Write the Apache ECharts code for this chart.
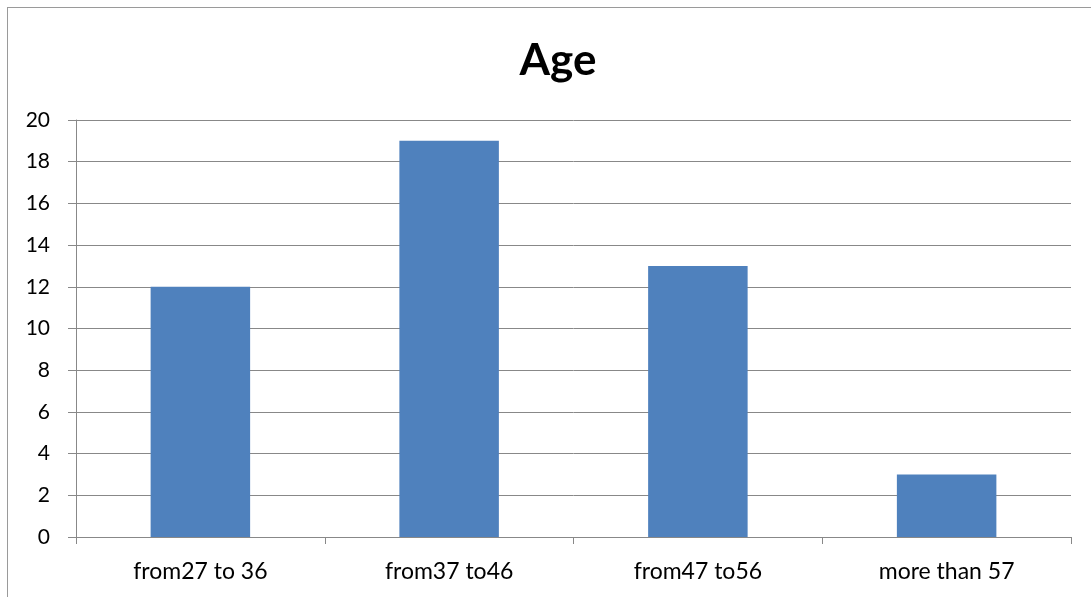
<!DOCTYPE html>
<html>
<head>
<meta charset="utf-8">
<script src="https://cdn.jsdelivr.net/npm/echarts@6/dist/echarts.min.js"></script>
<style>
  html, body { margin: 0; padding: 0; background: #fff; }
  #frame { position: absolute; left: 7px; top: 7px; width: 1100px; height: 600px; border: 1px solid #9a9a9a; box-sizing: border-box; }
  #chart { position: absolute; left: 0; top: 0; width: 1091px; height: 597px; }
</style>
</head>
<body>
<div id="frame"></div>
<div id="chart"></div>
<script>
const titleText = 'Age';
const categories = ['from27 to 36', 'from37 to46', 'from47 to56', 'more than 57'];
const counts = [12, 19, 13, 3];
const yTicks = { min: 0, max: 20, interval: 2 };

const chart = echarts.init(document.getElementById('chart'), null, { renderer: 'canvas' });
const font = 'Lato, "Open Sans", "Liberation Sans", sans-serif';
chart.setOption({
  animation: false,
  backgroundColor: 'transparent',
  title: {
    text: titleText,
    left: 553,
    textAlign: 'center',
    top: 34,
    textStyle: { fontFamily: font, fontSize: 44, fontWeight: 'bold', color: '#000' }
  },
  grid: { left: 76, right: 20, top: 120, bottom: 60, containLabel: false },
  xAxis: {
    type: 'category',
    data: categories,
    axisLine: { lineStyle: { color: '#888', width: 1 } },
    axisTick: { show: true, alignWithLabel: false, length: 7, lineStyle: { color: '#888' } },
    axisLabel: { fontFamily: font, fontSize: 23, color: '#000', margin: 23 }
  },
  yAxis: {
    type: 'value',
    min: yTicks.min,
    max: yTicks.max,
    interval: yTicks.interval,
    axisLine: { show: true, lineStyle: { color: '#888', width: 1 } },
    axisTick: { show: true, length: 8, lineStyle: { color: '#888' } },
    axisLabel: { fontFamily: font, fontSize: 21, color: '#000', margin: 26 },
    splitLine: { lineStyle: { color: '#888', width: 1 } }
  },
  series: [{
    type: 'bar',
    data: counts,
    barWidth: '40%',
    itemStyle: { color: '#4F81BD' }
  }]
});
</script>
</body>
</html>
